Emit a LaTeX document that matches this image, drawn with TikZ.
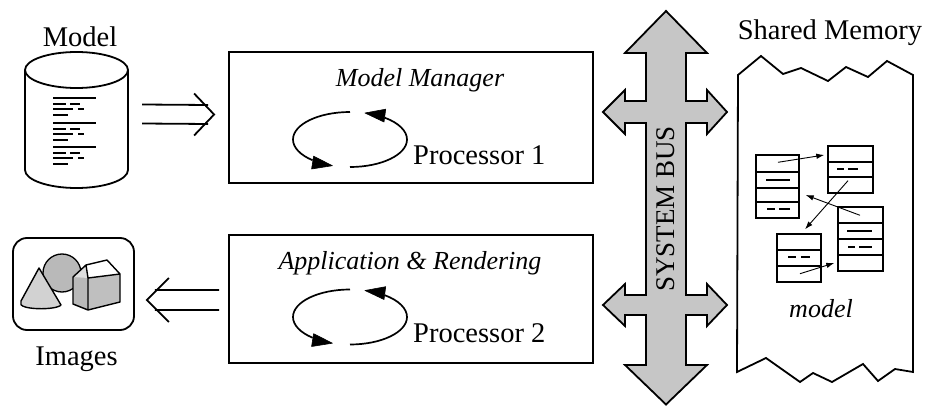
\documentclass[tikz,border=0pt]{standalone}
\usepackage{fontspec}
\setmainfont{Liberation Serif}
\usetikzlibrary{arrows.meta,calc}
\begin{document}
\begin{tikzpicture}[x=1pt,y=-1pt,
  heavy/.style={line width=1.8pt, line join=miter},
  txt/.style={font=\fontsize{28.5}{32}\selectfont, inner sep=0pt, anchor=base},
  itxt/.style={font=\fontsize{26}{30}\selectfont\itshape, inner sep=0pt, anchor=base},
  procbox/.style={draw, line width=1.8pt, minimum width=364pt, inner sep=0pt},
  mblk/.style={draw, line width=1.4pt, inner sep=0pt},
  mline/.style={line width=1.4pt},
  mdash/.style={line width=1.9pt},
  link/.style={line width=0.9pt, -{Latex[length=8pt,width=5.5pt]}},
  cycline/.style={line width=1.7pt},
  cychead/.style={fill=black, draw=black, line width=0.6pt, line join=round},
  busfill/.style={fill=gray!45, draw, line width=1.8pt, line join=miter},
  dblright/.style={to path={
    ($(\tikztostart)+(0,-9.5)$) -- ($(\tikztotarget)+(-6,-9.5)$)
    ($(\tikztostart)+(0,9.5)$) -- ($(\tikztotarget)+(-6,9.5)$)
    ($(\tikztotarget)+(-20,-21)$) -- (\tikztotarget) -- ($(\tikztotarget)+(-20,21)$)}},
  dblleft/.style={to path={
    ($(\tikztostart)+(0,-10)$) -- ($(\tikztotarget)+(8,-10)$)
    ($(\tikztostart)+(0,10)$) -- ($(\tikztotarget)+(8,10)$)
    ($(\tikztotarget)+(22,-22)$) -- (\tikztotarget) -- ($(\tikztotarget)+(22,22)$)}},
  % processing loop: two arcs running round, each ending in a solid head
  pics/cycle/.style={code={
    \draw[cycline] (-90:57 and 27.5) arc[start angle=-90, end angle=-229, x radius=57, y radius=27.5];
    \draw[cycline] (-270:57 and 27.5) arc[start angle=-270, end angle=-412.4, x radius=57, y radius=27.5];
    \draw[cychead] (-17.6,26.2) -- (-36.4,16.7) -- (-38.4,29.5) -- cycle;
    \draw[cychead] (15,-26.5) -- (35.7,-30.3) -- (34,-17.5) -- cycle;
  }}
]
\useasboundingbox (0,0) rectangle (927,406);

% ---------- model database (cylinder) ----------
\node[txt] (modellbl) at (80,47) {Model};
\node[minimum width=103pt, minimum height=136pt, inner sep=0pt] (db) at (76.5,120) {};
\draw[heavy] (25,70) -- (25,170) arc[start angle=180, end angle=0, x radius=51.5, y radius=18] -- (128,70);
\draw[heavy] (76.5,70) ellipse[x radius=51.5, y radius=18];
% listing lines on the cylinder
\begin{scope}[line width=1.6pt]
  \foreach \y in {0,25,49} {
    \draw (53,98+\y) -- (96,98+\y);
    \draw (53,104+\y) -- (66,104+\y); \draw (70,104+\y) -- (80,104+\y);
    \draw (53,109+\y) -- (73,109+\y); \draw (78,109+\y) -- (84,109+\y);
    \draw (53,115+\y) -- (68,115+\y);
  }
\end{scope}

% ---------- images (screen icon) ----------
\node[draw, line width=1.8pt, rounded corners=14pt, minimum width=121pt, minimum height=92pt, inner sep=0pt] (img) at (73.5,284) {};
\fill[gray!55, draw=black, line width=1.3pt] (62,273) circle[radius=19];
% cone
\fill[gray!35, draw=black, line width=1.4pt, line join=round]
  (21,301) -- (39,268) -- (61,305) arc[start angle=10, end angle=175, x radius=20.2, y radius=4.5] -- cycle;
% house-shaped block
\fill[gray!55] (73,277) -- (86,265) -- (88,278) -- (88,310) -- (73,304) -- cycle;
\fill[gray!25] (73,277) -- (86,265) -- (88,278) -- cycle;
\fill[white] (86,265) -- (107,260) -- (120,274) -- (88,278) -- cycle;
\fill[gray!50] (88,278) -- (120,274) -- (120,302) -- (88,310) -- cycle;
\draw[line width=1.4pt, line join=round]
  (73,277) -- (86,265) -- (107,260) -- (120,274) -- (120,302) -- (88,310) -- (73,304) -- cycle
  (86,265) -- (88,278) -- (120,274) (88,278) -- (88,310);
\node[txt] (imglbl) at (76.5,365) {Images};

% ---------- processors ----------
\node[procbox, minimum height=131pt] (mm) at (411,117.5) {};
\node[itxt] (mmlbl) at (420,87) {Model Manager};
\pic at (350,139.5) {cycle};
\node[txt, anchor=base west] (p1) at (413,165) {Processor 1};

\node[procbox, minimum height=128pt] (ar) at (411,299) {};
\node[itxt] (arlbl) at (410,270) {Application \& Rendering};
\pic at (350,317) {cycle};
\node[txt, anchor=base west] (p2) at (413,342) {Processor 2};

% ---------- data flow arrows ----------
\coordinate (inA) at ($(db.east)+(14,-6)$);
\coordinate (inB) at ($(mm.west)+(-14,-3)$);
\draw[heavy] (inA) to[dblright] (inB);
\coordinate (outA) at ($(ar.west)+(-9,1)$);
\coordinate (outB) at ($(img.east)+(12,16)$);
\draw[heavy] (outA) to[dblleft] (outB);

% ---------- system bus ----------
\draw[busfill]
  (666,11) -- (707,53) -- (686,53) -- (686,101) -- (707,101) -- (707,90) -- (727,112)
  -- (707,134) -- (707,123) -- (686,123) -- (686,295) -- (707,295) -- (707,284)
  -- (727,305) -- (707,326) -- (707,315) -- (686,315) -- (686,365) -- (707,365)
  -- (666,404.5) -- (625,365) -- (646,365) -- (646,315) -- (625,315) -- (625,326)
  -- (603,305) -- (625,284) -- (625,295) -- (646,295) -- (646,123) -- (625,123)
  -- (625,134) -- (603,112) -- (625,90) -- (625,101) -- (646,101) -- (646,53)
  -- (625,53) -- cycle;
\node[font=\fontsize{27}{30}\selectfont, inner sep=0pt, rotate=90] (bus) at (666,209) {SYSTEM BUS};

% ---------- shared memory ----------
\node[txt] (smlbl) at (830,40) {Shared Memory};
\draw[heavy]
  (738,75) -- (761,56) -- (783,74) -- (801,68) -- (828,81) -- (846,67) -- (868,77)
  -- (887,61) -- (913,75) -- (913,372) -- (895,369) -- (878,381) -- (863,364)
  -- (832,382) -- (813,373) -- (800,382) -- (766,358) -- (737,372) -- cycle;

% memory records
\node[mblk, minimum width=43pt, minimum height=63pt] (ma) at (777.5,186.5) {};
\draw[mline] (756,172) -- (799,172) (756,188) -- (799,188) (756,202) -- (799,202);
\draw[mdash] (766,180) -- (790,180) (767,209) -- (775,209) (779,209) -- (790,209);

\node[mblk, minimum width=45pt, minimum height=47pt] (mb) at (850.5,169.5) {};
\draw[mline] (828,162) -- (873,162) (828,177) -- (873,177);
\draw[mdash] (837,169) -- (844,169) (848,169) -- (858,169);

\node[mblk, minimum width=44pt, minimum height=48pt] (mc) at (799,258) {};
\draw[mline] (777,250) -- (821,250) (777,266) -- (821,266);
\draw[mdash] (788,257) -- (796,257) (801,257) -- (810,257);

\node[mblk, minimum width=45pt, minimum height=64pt] (md) at (860.5,239) {};
\draw[mline] (838,223) -- (883,223) (838,239) -- (883,239) (838,255) -- (883,255);
\draw[mdash] (847,231) -- (872,231) (848,247) -- (855,247) (859,247) -- (872,247);

% pointers between records
\draw[link] ($(ma.north)+(0.5,8)$) -- ($(mb.west)+(-3,-14.5)$);
\draw[link] ($(md.north)+(-0.5,9)$) -- ($(ma.east)+(6,8.5)$);
\draw[link] ($(mb.south)+(-2.5,-13)$) -- ($(mc.north)+(6,-4)$);
\draw[link] ($(mc.south)+(1,-9)$) -- ($(md.west)+(-3,24)$);

\node[itxt] (mlbl) at (821,317) {model};
\end{tikzpicture}
\end{document}
